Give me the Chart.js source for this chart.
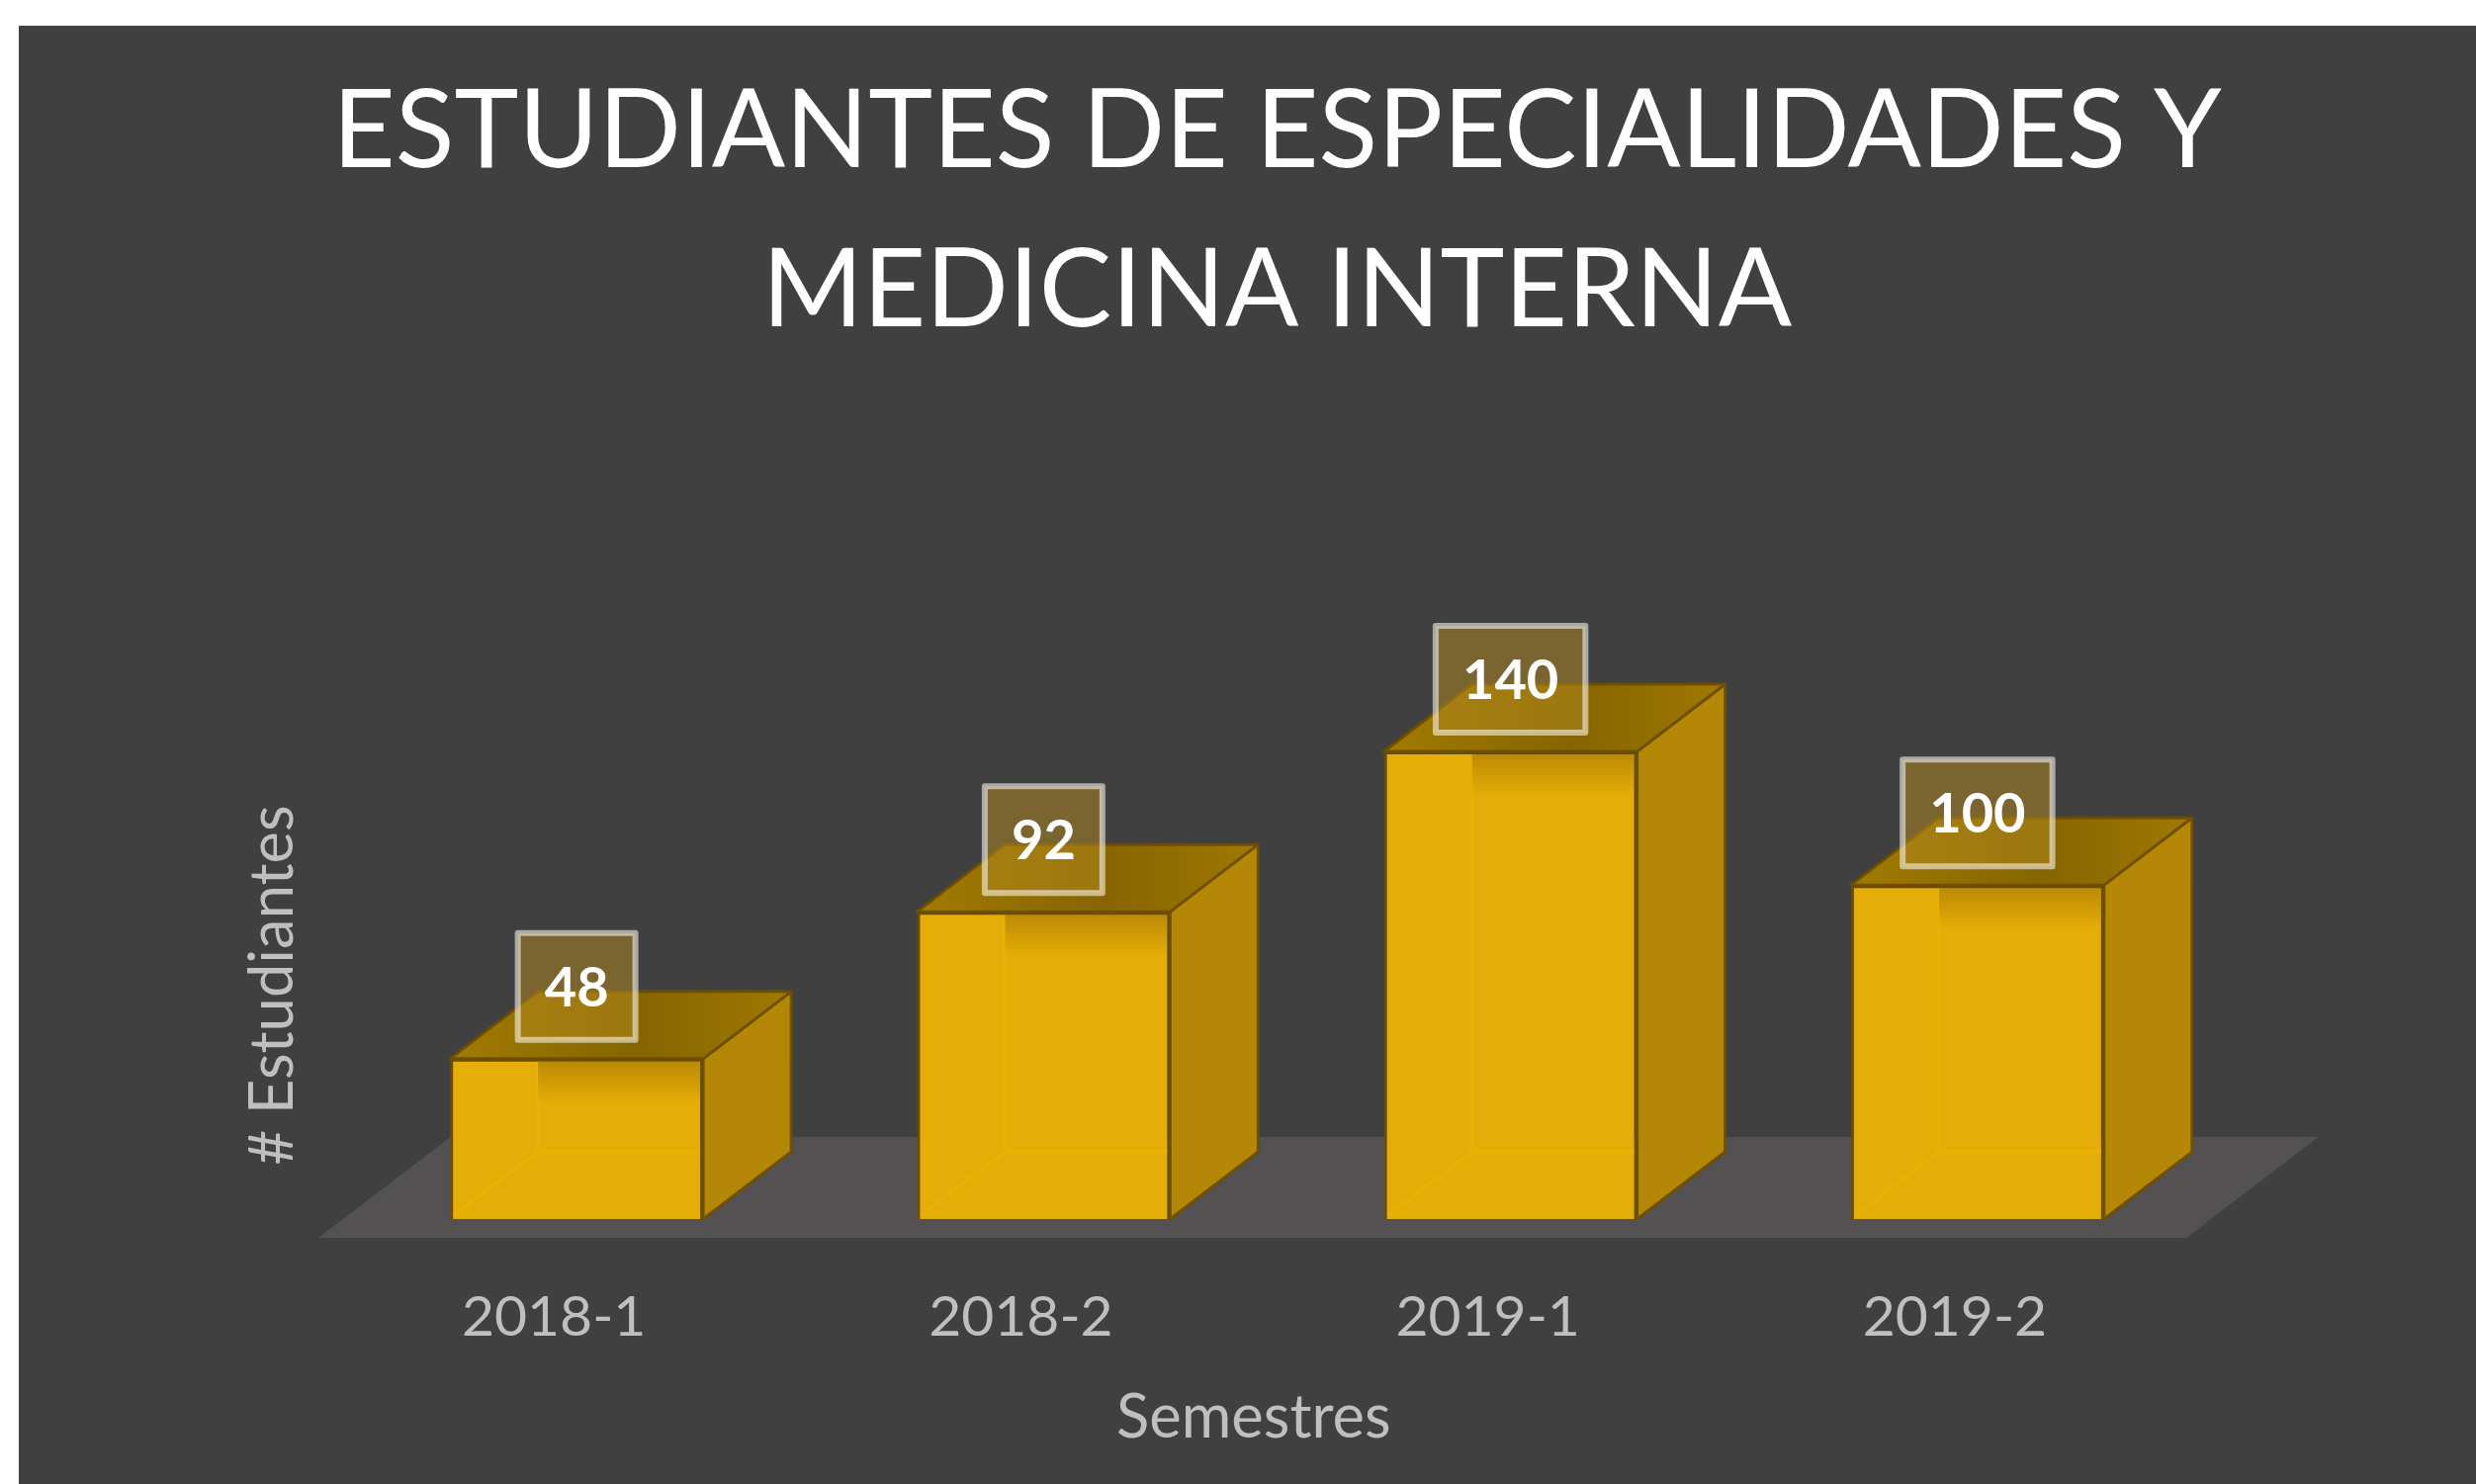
<!DOCTYPE html>
<html>
<head>
<meta charset="utf-8">
<title>Estudiantes de especialidades y medicina interna</title>
<script src="https://cdn.jsdelivr.net/npm/chart.js@4.4.1/dist/chart.umd.min.js"></script>
<style>
  html, body { margin: 0; padding: 0; background: #ffffff; overflow: hidden; }
  #frame { position: absolute; left: 19px; top: 26px; width: 2485px; height: 1475px; background: #404040; overflow: hidden; }
  #wrap { position: absolute; left: 60px; top: 0; width: 2425px; height: 1475px; }
</style>
</head>
<body>
<div id="frame"><div id="wrap"><canvas id="myChart"></canvas></div></div>
<script>
// Data
const semestres = ['2018-1', '2018-2', '2019-1', '2019-2'];
const estudiantes = [48, 92, 140, 100];
const titulo = ['ESTUDIANTES DE ESPECIALIDADES Y', 'MEDICINA INTERNA'];
const tituloX = 'Semestres';
const tituloY = '# Estudiantes';

const ctx = document.getElementById('myChart');

// 3D look: depth of each box in pixels
const depthX = 89;
const depthY = 68;

function poly(c, pts, fill, stroke) {
    c.beginPath();
    c.moveTo(pts[0][0], pts[0][1]);
    for (let i = 1; i < pts.length; i++) c.lineTo(pts[i][0], pts[i][1]);
    c.closePath();
    c.fillStyle = fill;
    c.fill();
    if (stroke) {
        c.strokeStyle = stroke;
        c.lineWidth = 3;
        c.lineJoin = 'round';
        c.stroke();
    }
}

const bars3d = {
    id: 'bars3d',
    beforeDatasetsDraw(chart) {
        // grey floor under the bars
        const c = chart.ctx;
        const a = chart.chartArea;
        const base = chart.scales.y.getPixelForValue(0);
        const d0 = -0.28, d1 = 1.22;
        c.save();
        poly(c, [
            [a.left + d0 * depthX, base - d0 * depthY],
            [a.right + d0 * depthX, base - d0 * depthY],
            [a.right + d1 * depthX, base - d1 * depthY],
            [a.left + d1 * depthX, base - d1 * depthY]
        ], '#535152');
        c.restore();
    },
    afterDatasetsDraw(chart) {
        const c = chart.ctx;
        const meta = chart.getDatasetMeta(0);
        const edge = 'rgba(110,78,0,0.9)';
        c.save();
        meta.data.forEach((bar, i) => {
            const p = bar.getProps(['x', 'y', 'base', 'width'], true);
            const l = p.x - p.width / 2, r = p.x + p.width / 2;
            const top = p.y, base = p.base;

            // faint back edges seen through the front face
            c.strokeStyle = 'rgba(240,182,0,0.5)';
            c.lineWidth = 4;
            c.beginPath();
            c.moveTo(l + depthX, top + 3);
            c.lineTo(l + depthX, base - depthY);
            c.lineTo(r - 3, base - depthY);
            c.moveTo(l + 4, base - 4);
            c.lineTo(l + depthX, base - depthY);
            c.stroke();

            // shadow of the label on the front face
            const sh = c.createLinearGradient(0, top, 0, top + 45);
            sh.addColorStop(0, 'rgba(130,90,0,0.45)');
            sh.addColorStop(1, 'rgba(130,90,0,0)');
            c.fillStyle = sh;
            c.fillRect(l + depthX, top + 3, p.width - depthX - 3, 45);

            // right side
            poly(c, [[r, top], [r + depthX, top - depthY], [r + depthX, base - depthY], [r, base]], '#B48806', edge);

            // top
            const g = c.createLinearGradient(l, 0, r + depthX, 0);
            g.addColorStop(0, '#A17B02');
            g.addColorStop(0.55, '#866400');
            g.addColorStop(1, '#A07902');
            poly(c, [[l, top], [l + depthX, top - depthY], [r + depthX, top - depthY], [r, top]], g, edge);

            // value label
            const txt = String(estudiantes[i]);
            c.font = 'bold 56px Lato';
            const tw = c.measureText(txt).width;
            const bw = tw + 54, bh = 108;
            const cy = top - 73;
            c.fillStyle = 'rgba(180,138,32,0.5)';
            c.fillRect(p.x - bw / 2, cy - bh / 2, bw, bh);
            c.strokeStyle = 'rgba(255,255,255,0.55)';
            c.lineWidth = 6;
            c.strokeRect(p.x - bw / 2, cy - bh / 2, bw, bh);
            c.fillStyle = '#ffffff';
            c.textAlign = 'center';
            c.textBaseline = 'middle';
            c.fillText(txt, p.x, cy + 2);
        });
        c.restore();
    }
};

const chart = new Chart(ctx, {
    type: 'bar',
    data: {
        labels: semestres,
        datasets: [{
            label: tituloY,
            data: estudiantes,
            backgroundColor: '#E5AD08',
            borderColor: 'rgba(110,78,0,0.9)',
            borderWidth: 3,
            categoryPercentage: 1,
            barPercentage: 0.542,
            clip: false
        }]
    },
    options: {
        responsive: true,
        maintainAspectRatio: false,
        devicePixelRatio: 1,
        animation: false,
        layout: { padding: 0 },
        plugins: {
            legend: { display: false },
            tooltip: { enabled: false },
            title: {
                display: true,
                text: titulo,
                color: '#ffffff',
                font: { family: 'Lato', size: 110, weight: 'normal', lineHeight: 161 / 110 },
                padding: { top: 27, bottom: 385 }
            }
        },
        scales: {
            x: {
                grid: { display: false },
                border: { display: false },
                ticks: {
                    color: '#bfbfbf',
                    font: { family: 'Lato', size: 57 },
                    padding: 57,
                    labelOffset: -23
                },
                title: {
                    display: true,
                    // trailing no-break spaces pull the title left, under the labels
                    text: tituloX + '\u00A0\u00A0\u00A0',
                    color: '#bfbfbf',
                    font: { family: 'Lato', size: 61.5, lineHeight: 1.2 },
                    padding: { top: 0, bottom: 30 }
                },
                afterFit(s) { s.height = 268; }
            },
            y: {
                min: 0,
                max: 140,
                grid: { display: false },
                border: { display: false },
                ticks: { display: false },
                title: {
                    display: true,
                    text: tituloY,
                    color: '#bfbfbf',
                    font: { family: 'Lato', size: 61.5, lineHeight: 1.2 },
                    padding: { top: 160, bottom: 0 }
                },
                afterFit(s) { s.width = 268; }
            },
            yR: {
                type: 'linear',
                position: 'right',
                grid: { display: false },
                border: { display: false },
                ticks: { display: false },
                afterFit(s) { s.width = 268; }
            }
        }
    },
    plugins: [bars3d]
});
</script>
</body>
</html>
